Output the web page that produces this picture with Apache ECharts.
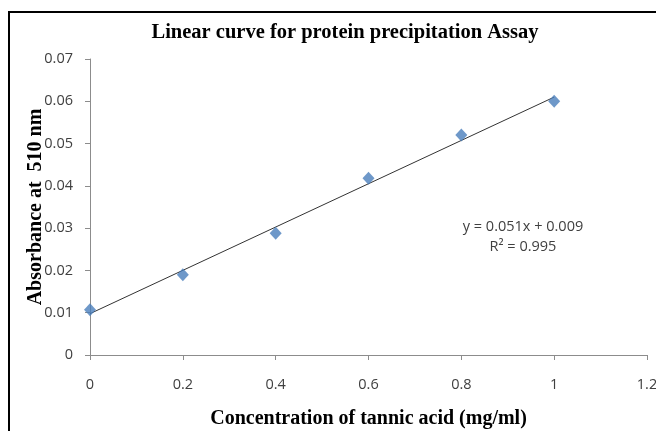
<!DOCTYPE html>
<html>
<head>
<meta charset="utf-8">
<script src="https://cdn.jsdelivr.net/npm/echarts@6/dist/echarts.min.js"></script>
<style>
html,body{margin:0;padding:0;background:#fff;}
#chart{width:656px;height:431px;}
</style>
</head>
<body>
<div id="chart"></div>
<script>
var xValues = [0, 0.2, 0.4, 0.6, 0.8, 1];
var yValues = [0.0107, 0.019, 0.0288, 0.0418, 0.052, 0.060];
var xTicks = [0, 0.2, 0.4, 0.6, 0.8, 1, 1.2];
var yTicks = [0, 0.01, 0.02, 0.03, 0.04, 0.05, 0.06, 0.07];
var equationText = ['y = 0.051x + 0.009', 'R\u00b2 = 0.995'];

// least-squares trendline computed from the data
var n = xValues.length, mx = 0, my = 0;
for (var i = 0; i < n; i++) { mx += xValues[i]; my += yValues[i]; }
mx /= n; my /= n;
var sxy = 0, sxx = 0;
for (var i = 0; i < n; i++) { sxy += (xValues[i]-mx)*(yValues[i]-my); sxx += (xValues[i]-mx)*(xValues[i]-mx); }
var slope = sxy / sxx, intercept = my - slope * mx;
var xFirst = xValues[0], xLast = xValues[n-1];
var trend = [[xFirst, intercept + slope * xFirst], [xLast, intercept + slope * xLast]];

var points = xValues.map(function (x, i) { return [x, yValues[i]]; });

var chart = echarts.init(document.getElementById('chart'));
var sans = '"Open Sans", "Noto Sans", sans-serif';
var serif = '"Liberation Serif", serif';
var tickFont = {color: '#404040', fontSize: 14.5, fontFamily: sans};
chart.setOption({
  backgroundColor: '#fff',
  animation: false,
  title: {
    text: 'Linear curve for protein precipitation Assay',
    left: 340, top: 17, textAlign: 'center',
    textStyle: {fontFamily: serif, fontWeight: 'bold', fontSize: 20.5, color: '#000'}
  },
  grid: {left: 90, right: 9, top: 59, bottom: 76, containLabel: false, outerBoundsMode: 'none'},
  xAxis: {
    type: 'value', min: 0, max: xTicks[xTicks.length-1], interval: 0.2,
    name: 'Concentration of tannic acid (mg/ml)', nameLocation: 'middle', nameGap: 54, nameMoveOverlap: false,
    nameTextStyle: {fontFamily: serif, fontWeight: 'bold', fontSize: 20, color: '#000'},
    axisLine: {show: true, onZero: false, lineStyle: {color: '#8c8c8c', width: 1}},
    axisTick: {show: true, length: 5, lineStyle: {color: '#8c8c8c'}},
    axisLabel: Object.assign({margin: 22, formatter: function (v) { return String(+v.toFixed(1)); }}, tickFont),
    splitLine: {show: false}
  },
  yAxis: {
    type: 'value', min: 0, max: yTicks[yTicks.length-1], interval: 0.01,
    name: 'Absorbance at  510 nm', nameLocation: 'middle', nameGap: 44, nameMoveOverlap: false,
    nameTextStyle: {fontFamily: serif, fontWeight: 'bold', fontSize: 20, color: '#000'},
    axisLine: {show: true, lineStyle: {color: '#8c8c8c', width: 1}},
    axisTick: {show: true, length: 5, lineStyle: {color: '#8c8c8c'}},
    axisLabel: Object.assign({margin: 17, formatter: function (v) { return String(+v.toFixed(2)); }}, tickFont),
    splitLine: {show: false}
  },
  graphic: [
    {type: 'rect', shape: {x: 9, y: 12, width: 700, height: 500}, style: {fill: 'none', stroke: '#000', lineWidth: 2}, silent: true, z: 100},
    {type: 'text', x: 523, y: 227, style: {text: equationText[0], align: 'center', verticalAlign: 'middle', fill: '#404040', fontSize: 14.5, fontFamily: sans}},
    {type: 'text', x: 523, y: 247, style: {text: equationText[1], align: 'center', verticalAlign: 'middle', fill: '#404040', fontSize: 14.5, fontFamily: sans}}
  ],
  series: [
    {type: 'line', data: trend, symbol: 'none', lineStyle: {color: '#333', width: 1}, z: 2},
    {type: 'scatter', data: points, symbol: 'diamond', symbolSize: [12, 13], itemStyle: {color: '#4a7ebb'}, z: 3}
  ]
});
</script>
</body>
</html>
